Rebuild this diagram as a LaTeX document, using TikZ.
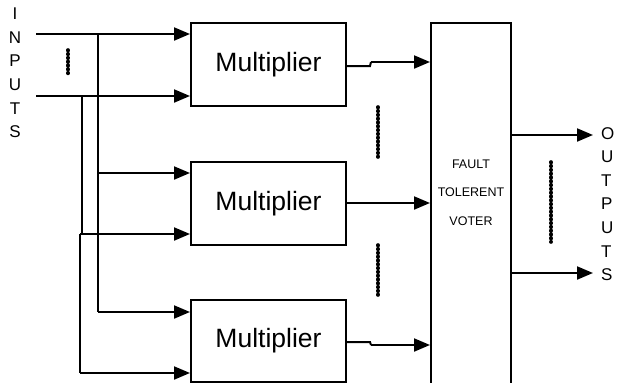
\documentclass[tikz,border=0pt]{standalone}
\usepackage{fontspec}
\setmainfont{Liberation Sans}
\usetikzlibrary{arrows.meta,calc}
\begin{document}
\begin{tikzpicture}[x=1pt,y=-1pt,
  wire/.style={line width=2pt},
  thinwire/.style={line width=1.4pt},
  sig/.style={wire,-{Triangle[length=16pt,width=13pt]}},
  mult/.style={draw,line width=2pt,minimum width=155pt,minimum height=83pt,
    inner sep=0pt,font=\fontsize{26.5}{26.5}\selectfont},
  voterbox/.style={draw,line width=2pt,minimum width=80pt,minimum height=363pt,inner sep=0pt},
  dotline/.style={line width=3.6pt,line cap=round,dash pattern=on 0.6pt off 3.2pt},
  letters/.style={align=center,inner sep=0pt,font=\fontsize{17}{23.6}\selectfont}
]
\useasboundingbox (0,0) rectangle (619,383);
\clip (0,0) rectangle (619,383);

% multipliers and voter
\node[mult] (m1) at (268.5,64.5) {Multiplier};
\node[mult] (m2) at (268.5,203.5) {Multiplier};
\node[mult,minimum height=82pt] (m3) at (268.5,341) {Multiplier};
\node[voterbox] (v) at (471,204.5) {};
\node[align=center,inner sep=0pt,font=\fontsize{12.5}{28.5}\selectfont] (vl) at (471,192.5)
  {FAULT\\TOLERENT\\VOTER};

% side labels
\node[letters] (inl) at (15,73) {I\\N\\P\\U\\T\\S};
\node[letters,align=left,anchor=west] (outl) at (601,204) {O\\U\\T\\P\\U\\T\\S};

% input wiring
\coordinate (in1) at (36,34);
\coordinate (in2) at (36,96);
\coordinate (ja) at (98,34);
\coordinate (jb) at (82,96);
\coordinate (jc) at (98,173);
\coordinate (jd) at (80,234);
\coordinate (je) at (98,312);
\coordinate (jf) at (80,373);
\draw[sig] (in1) -- (in1 -| m1.west);
\draw[sig] (in2) -- (in2 -| m1.west);
\draw[wire] (ja) -- (je);
\draw[wire] (jb) -- (jb |- jd);
\draw[sig] (jc) -- (jc -| m2.west);
\draw[sig] (jd) -- (jd -| m2.west);
\draw[sig] (je) -- (je -| m3.west);
\draw[thinwire] (jd) -- (jf);
\draw[sig] (jf) -- (jf -| m3.west);

% multiplier outputs
\coordinate (o1) at (370,66);
\coordinate (o3) at (370,342);
\draw[wire] (m1.east |- o1) -- (o1) -- ++(1,-4) coordinate (o1b);
\draw[sig] (o1b) -- (o1b -| v.west);
\draw[sig] (m2.east |- 0,203) -- (v.west |- 0,203);
\draw[wire] (m3.east |- o3) -- (o3) -- ++(1,3) coordinate (o3b);
\draw[sig] (o3b) -- (o3b -| v.west);

% voter outputs
\coordinate (q1) at (593,135);
\coordinate (q2) at (593,273);
\draw[sig] (v.east |- q1) -- (q1);
\draw[sig] (v.east |- q2) -- (q2);

% ellipsis marks
\draw[dotline] (68,50) -- (68,75);
\draw[dotline] (378,107) -- (378,158);
\draw[dotline] (378,245) -- (378,297);
\draw[dotline] (551,162) -- (551,242);
\end{tikzpicture}
\end{document}
